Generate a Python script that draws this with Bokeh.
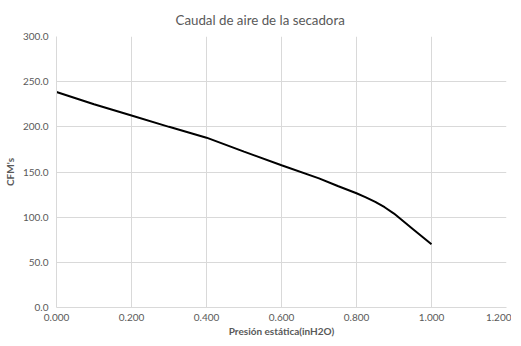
from bokeh.plotting import figure
from bokeh.models import FixedTicker, NumeralTickFormatter, Range1d
from bokeh.embed import file_html
from bokeh.resources import INLINE

# Data
presion = [0.0, 0.1, 0.2, 0.3, 0.4, 0.5, 0.6, 0.7, 0.75, 0.8, 0.825, 0.85, 0.875, 0.9, 0.95, 1.0]
caudal = [238.5, 225.0, 212.5, 200.0, 188.0, 172.5, 157.5, 143.0, 134.5, 126.5, 122.0, 117.0, 111.0, 104.0, 87.0, 70.0]

x_ticks = [0.0, 0.2, 0.4, 0.6, 0.8, 1.0, 1.2]
y_ticks = [0, 50, 100, 150, 200, 250, 300]

FONT = "Lato"
GREY = "#595959"

p = figure(frame_width=450, frame_height=271, output_backend="svg", toolbar_location=None,
           x_range=Range1d(0, 1.2), y_range=Range1d(0, 300),
           min_border_left=50, min_border_right=5, min_border_top=29, min_border_bottom=20)
p.outline_line_color = None

p.title.text = "Caudal de aire de la secadora"
p.title.align = "left"
p.title.offset = 119
p.title.standoff = 18
p.title.text_font = FONT
p.title.text_font_size = "13.3px"
p.title.text_font_style = "normal"
p.title.text_color = GREY

p.line(presion, caudal, line_color="black", line_width=2)

for ax in (p.xaxis[0], p.yaxis[0]):
    ax.axis_line_color = "#d9d9d9"
    ax.major_tick_line_color = None
    ax.minor_tick_line_color = None
    ax.major_tick_out = 0
    ax.major_tick_in = 0
    ax.minor_tick_out = 0
    ax.minor_tick_in = 0
    ax.major_label_text_font = FONT
    ax.major_label_text_font_size = "10px"
    ax.major_label_text_color = GREY
    ax.axis_label_text_font = FONT
    ax.axis_label_text_font_size = "10px"
    ax.axis_label_text_font_style = "bold"
    ax.axis_label_text_color = GREY

p.xaxis.ticker = FixedTicker(ticks=x_ticks)
p.yaxis.ticker = FixedTicker(ticks=y_ticks)
p.xaxis.formatter = NumeralTickFormatter(format="0.000")
p.yaxis.formatter = NumeralTickFormatter(format="0.0")
p.xaxis.axis_label = "Presión estática(inH2O)"
p.yaxis.axis_label = "CFM's"
p.xaxis.major_label_standoff = 6
p.yaxis.major_label_standoff = 8
p.xaxis.axis_label_standoff = 1
p.yaxis.axis_label_standoff = 4

p.xgrid.ticker = FixedTicker(ticks=x_ticks)
p.ygrid.ticker = FixedTicker(ticks=y_ticks)
p.xgrid.grid_line_color = "#d9d9d9"
p.ygrid.grid_line_color = "#d9d9d9"

open("out.html", "w").write(file_html(p, INLINE))
